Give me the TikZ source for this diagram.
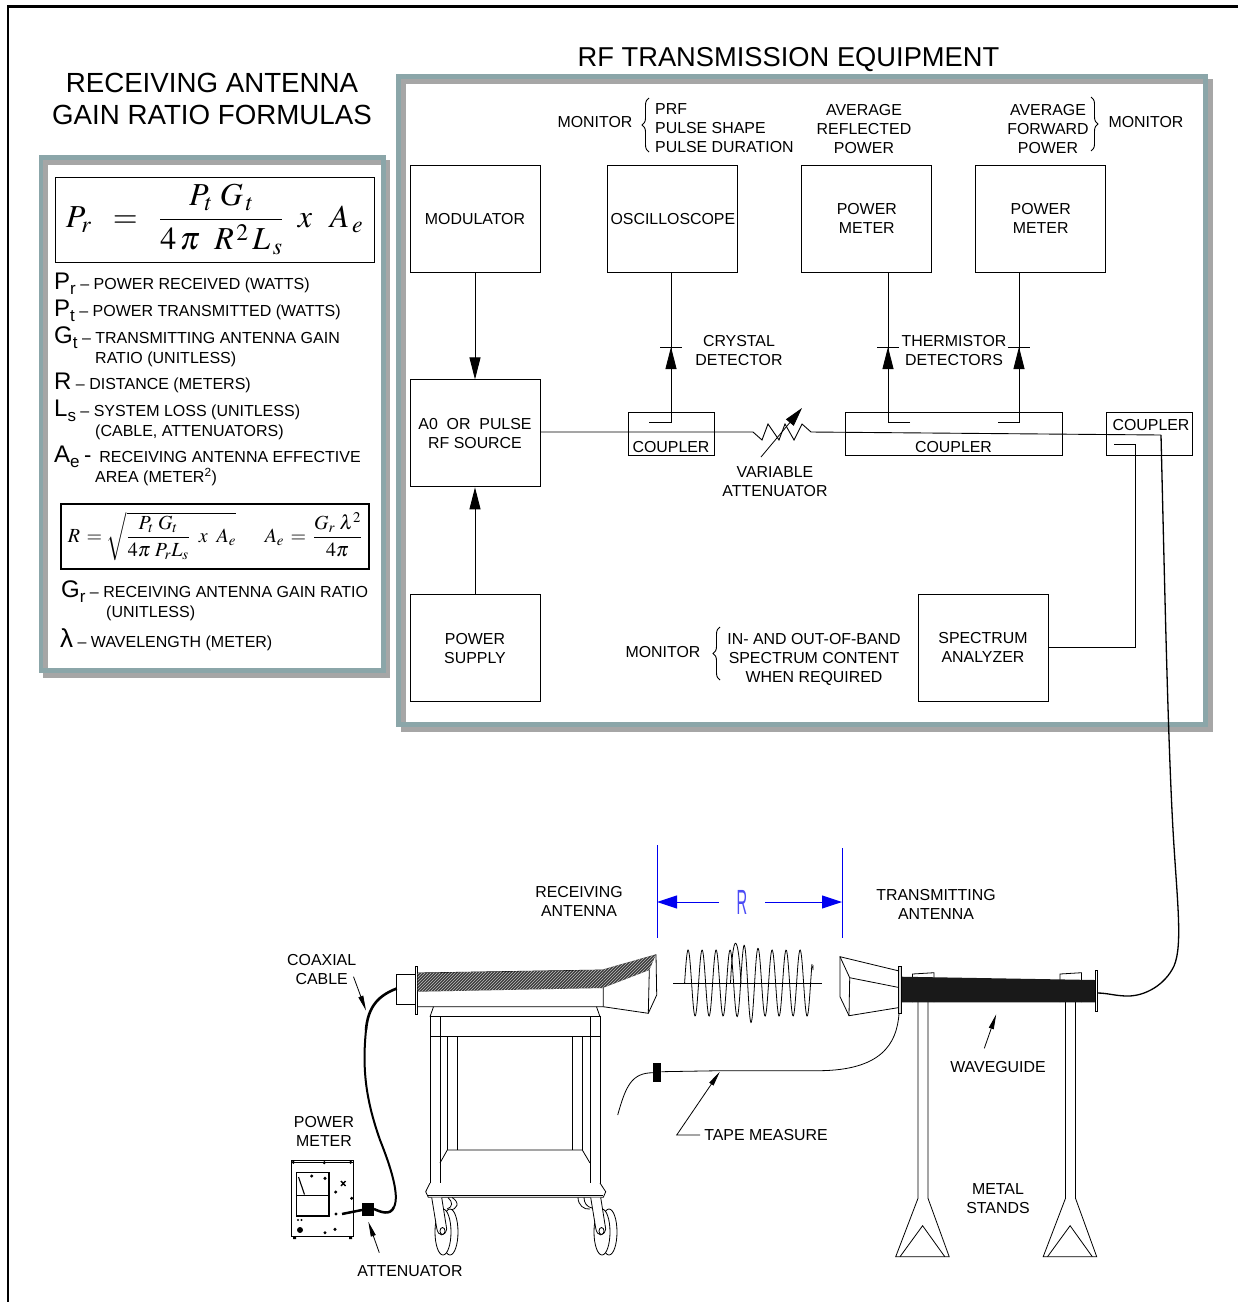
\documentclass[tikz,border=0pt]{standalone}
\usepackage{amsmath}
\usepackage{mathptmx}
\usepackage{fontspec}
\setmainfont{Liberation Sans}
\usetikzlibrary{arrows.meta,positioning,patterns,decorations.pathreplacing}
\definecolor{rfTeal}  {HTML}{8BA6A9}
\definecolor{rfShade} {HTML}{A6A6A6}
\definecolor{rfHatch} {HTML}{3C3C3C}
\definecolor{rfBlue}  {HTML}{0000F0}
\newcommand{\sizept}[1]{\fontsize{#1}{#1}\selectfont}
\newcommand{\lblfont}{\fontsize{15.9}{19}\selectfont}
\newcommand{\rowsym}[2]{{\sizept{24}#1}\raisebox{-5pt}{\sizept{17}#2}}
\tikzset{
  block/.style={draw,minimum width=130pt,minimum height=107pt,inner sep=0pt,align=center,line width=0.9pt,text depth=0pt},
  coupler/.style={draw,minimum height=43pt,inner sep=0pt,line width=0.9pt},
  lbl/.style={inner sep=0pt,align=center,text depth=0pt},
  row/.style={inner sep=0pt,anchor=base west,font=\sizept{16}},
  wire/.style={line width=0.9pt},
  bighead/.style={-{Triangle[length=22pt,width=11pt]}},
  thinhead/.style={-{Triangle[length=15pt,width=5pt]},line width=0.8pt},
  dim/.style={rfBlue,line width=1pt},
  ink/.style={line width=0.8pt},
  brc/.style={decorate,decoration={brace,amplitude=7pt},line width=0.9pt}
}
\begin{document}
\begin{tikzpicture}[x=1pt,y=-1pt,font=\lblfont,baseline]
    \useasboundingbox (0,0) rectangle (1238,1302);
    \draw[line width=2.4pt] (8,1302) -- (8,6.5) -- (1238,6.5);

    % panels
    \fill[rfShade] (43,160) rectangle (390,678);
    \fill[rfTeal] (38.5,155) rectangle (385.5,673);
    \fill[rfShade] (43,160) rectangle (381,667.5);
    \fill[white] (48,164.5) rectangle (381,667.5);
    \fill[rfShade] (401,79) rectangle (1213,732);
    \fill[rfTeal] (396,74) rectangle (1208,727);
    \fill[rfShade] (401,79) rectangle (1203,722);
    \fill[white] (406,84) rectangle (1203,722);

    % titles
    \node[lbl,font=\sizept{27.3}] (rftitle) at (788.5,57) {RF TRANSMISSION EQUIPMENT};
    \node[lbl,font=\sizept{27.7}] (gaintitle) at (212,99) {RECEIVING ANTENNA\\[4pt]GAIN RATIO FORMULAS};

    % formula panel
    \node[draw,line width=0.9pt,minimum width=319pt,minimum height=85pt,inner sep=0pt] (formA) at (214.5,219.5)
      {\sizept{32}$P_r\;\;=\;\;\dfrac{P_t\;G_{\,t}}{4\,\pi\;\;R^{\,2}\,L_{\,s}}\;\;x\;\;\,A_{\,e}$};
    \node[row] (rowPr) at (54,289) {\rowsym{P}{r} – POWER RECEIVED (WATTS)};
    \node[row] (rowPt) at (54,316) {\rowsym{P}{t} – POWER TRANSMITTED (WATTS)};
    \node[row] (rowGt) at (54,343) {\rowsym{G}{t} – TRANSMITTING ANTENNA GAIN};
    \node[row] (rowGtb) at (95,363) {RATIO (UNITLESS)};
    \node[row] (rowR) at (54,389) {{\sizept{24}R} – DISTANCE (METERS)};
    \node[row] (rowLs) at (54,416) {\rowsym{L}{s} – SYSTEM LOSS (UNITLESS)};
    \node[row] (rowLsb) at (95,436) {(CABLE, ATTENUATORS)};
    \node[row] (rowAe) at (54,462) {\rowsym{A}{e} {\sizept{22}-}\hspace{3.5pt} RECEIVING ANTENNA EFFECTIVE};
    \node[row] (rowAeb) at (95,482) {AREA (METER\textsuperscript{2})};
    \node[draw,line width=1.4pt,minimum width=308pt,minimum height=65pt,inner sep=0pt] (formB) at (215,536.5)
      {\sizept{20}$R\,=\sqrt{\dfrac{P_t\;G_t}{4\pi\;P_r L_s}\;\;x\;\;A_e}\quad\;\;A_e\,=\,\dfrac{G_r\;\lambda^2}{4\pi}$};
    \node[row] (rowGr) at (61,597) {\rowsym{G}{r} – RECEIVING ANTENNA GAIN RATIO};
    \node[row] (rowGrb) at (106,617) {(UNITLESS)};
    \node[row] (rowLam) at (60,647) {{\sizept{26}λ} – WAVELENGTH (METER)};

    % blocks
    \node[block] (modulator) at (475,218.5) {MODULATOR};
    \node[block,right=67pt of modulator] (scope) {OSCILLOSCOPE};
    \node[block,right=63pt of scope] (meterA) {POWER\\METER};
    \node[block,right=43pt of meterA] (meterB) {POWER\\METER};
    \node[block,below=107pt of modulator] (source) {A0\ \ OR\ \ PULSE\\RF SOURCE};
    \node[block,below=107pt of source] (supply) {POWER\\SUPPLY};
    \node[block] (analyzer) at (983,647.5) {SPECTRUM\\ANALYZER};
    \node[coupler,minimum width=86pt] (couplerA) at (671,433.5) {};
    \node[coupler,minimum width=217pt] (couplerB) at (953.5,433.5) {};
    \node[coupler,minimum width=86pt] (couplerC) at (1149,433.5) {};
    \node[lbl] (couplerAtxt) at (671,447) {COUPLER};
    \node[lbl] (couplerBtxt) at (953.5,447) {COUPLER};
    \node[lbl] (couplerCtxt) at (1151,425) {COUPLER};

    % monitor notes
    \node[lbl] (monA) at (595,122) {MONITOR};
    \node[lbl,align=left,anchor=west] (monAtxt) at (655,128.5) {PRF\\PULSE SHAPE\\PULSE DURATION};
    \draw[brc] (649,152) -- (649,98);
    \node[lbl] (avgRefl) at (864,128.5) {AVERAGE\\REFLECTED\\POWER};
    \node[lbl] (avgFwd) at (1048,128.5) {AVERAGE\\FORWARD\\POWER};
    \draw[brc] (1091,97) -- (1091,151);
    \node[lbl] (monB) at (1146,122) {MONITOR};
    \node[lbl] (monC) at (663,652) {MONITOR};
    \node[lbl] (monCtxt) at (814,658) {IN- AND OUT-OF-BAND\\SPECTRUM CONTENT\\WHEN REQUIRED};
    \draw[brc] (720,680) -- (720,627);
    \node[lbl] (crystal) at (739,350.5) {CRYSTAL\\DETECTOR};
    \node[lbl] (thermistor) at (954,350.5) {THERMISTOR\\DETECTORS};
    \node[lbl] (varatt) at (775,481.5) {VARIABLE\\ATTENUATOR};

    % signal path
    \draw[wire,bighead] (modulator) -- (source);
    \draw[wire,bighead] (supply) -- (source);
    \coordinate (tapA) at (671,422);
    \coordinate (tapB) at (888,422);
    \coordinate (tapC) at (1019,422);
    \coordinate (tapD) at (1114,444);
    \coordinate (zigL) at (753,432);
    \coordinate (zigR) at (811,432);
    \coordinate (feed) at (1161,435);
    \coordinate (flangeT) at (1097,993);
    \draw[wire] (649,422) -- (tapA) -- (tapA |- scope.south);
    \draw[wire] (910,422) -- (tapB) -- (tapB |- meterA.south);
    \draw[wire] (998,422) -- (tapC) -- (tapC |- meterB.south);
    \foreach \dx in {671,888,1019} {
      \draw[bighead,wire] (\dx,372) -- (\dx,347);
      \draw[wire] (\dx-11,347) -- (\dx+11,347);
    }
    \draw[wire] (source.east |- zigL) -- (zigL) -- (762,440) -- (768,424) -- (779,440)
      -- (785,424) -- (794,440) -- (802,424) -- (zigR) -- (feed);
    \draw[thinhead,-{Triangle[length=19pt,width=10pt]}] (761,457) -- (802,408);
    \draw[wire] (tapD) -- (1135,444) |- (analyzer.east);
    \draw[line width=1.3pt] (feed) .. controls (1165,600) and (1168,740) .. (1173,830)
      .. controls (1177,900) and (1183,945) .. (1174,966)
      .. controls (1165,985) and (1145,996) .. (1128,996)
      .. controls (1115,996) and (1108,993) .. (flangeT);

    % range
    \coordinate (dimLt) at (657,845);
    \coordinate (dimLb) at (657,938);
    \coordinate (dimRt) at (842,848);
    \coordinate (dimRb) at (842,938);
    \draw[dim] (dimLt) -- (dimLb);
    \draw[dim] (dimRt) -- (dimRb);
    \node[lbl,text=rfBlue!70!white,font=\sizept{35},xscale=0.42] (rangeR) at (742,902.5) {R};
    \draw[dim,-{Triangle[length=20pt,width=13pt]}] (719,902) -- (dimLt |- 0,902);
    \draw[dim,-{Triangle[length=20pt,width=13pt]}] (765,902) -- (dimRt |- 0,902);
    \node[lbl] (rxant) at (579,901.5) {RECEIVING\\ANTENNA};
    \node[lbl] (txant) at (936,904) {TRANSMITTING\\ANTENNA};

    % wave
    \draw[ink] (673,983) -- (822,983);
    \draw[ink] plot[domain=0:9.1,samples=260,smooth] ({684.6+14*\x},{983-(33+7*exp(-((\x-4.6)*(\x-4.6))/0.3))*sin(360*\x)});
    \draw[ink] (730.5,983) .. controls (733,930) and (738,930) .. (741,983);
    \draw[line width=0.6pt] (811,969) -- (813,966) -- (813,970);

    % receiving antenna
    \draw[ink,fill=white] (396.7,974) rectangle (415,1004);
    \draw[ink,fill=white] (415,966.7) rectangle (417.7,1014);
    \draw[ink] (417.7,973) -- (603.3,970) -- (603.3,1006.7) -- (417.7,1006.7);
    \fill[rfHatch] (417.7,973) -- (603.3,970) -- (603.3,988) -- (417.7,991.7) -- cycle;
    \fill[pattern=north east lines,pattern color=white!50!gray] (417.7,973) -- (603.3,970) -- (603.3,988) -- (417.7,991.7) -- cycle;
    \fill[rfHatch] (603.3,969.3) -- (656,954.3) -- (649.3,970) -- (603.3,987.7) -- cycle;
    \fill[pattern=north east lines,pattern color=white!50!gray] (603.3,969.3) -- (656,954.3) -- (649.3,970) -- (603.3,987.7) -- cycle;
    \draw[ink] (603.3,1006.7) -- (648.3,1013.3) -- (656.7,995) -- (656,954.3);
    \draw[ink] (648.3,1013.3) -- (649.3,970);

    % cart
    \draw[ink] (433.5,1006.7) -- (430,1016.7) (596.5,1006.7) -- (600,1016.7);
    \draw[ink] (430,1016.7) rectangle (600,1036);
    \draw[ink] (430,1016.7) rectangle (440,1195);
    \draw[ink] (590,1016.7) rectangle (600,1195);
    \draw[ink] (447.3,1036) -- (447.3,1150) (457.3,1036) -- (457.3,1150);
    \draw[ink] (572.3,1036) -- (572.3,1150) (582.3,1036) -- (582.3,1150);
    \draw[ink] (440,1163) -- (447.3,1150) -- (582.3,1150) -- (590,1163);
    \draw[ink,fill=white] (430,1183) -- (425.7,1191.7) -- (428.3,1197.3) -- (603.3,1197.3) -- (605.7,1191.7) -- (600,1183);
    \draw[ink] (428.3,1195) -- (603.3,1195);
    \draw[ink] (452,1197.5) .. controls (460,1202) and (458,1210) .. (449,1210);
    \draw[ink] (448,1197.5) .. controls (453,1202) and (453,1207) .. (447,1209);
    \draw[ink] (578,1197.5) .. controls (578,1205) and (584,1210) .. (590,1209);
    \draw[ink] (584,1197.5) .. controls (584,1203) and (587,1207) .. (592,1208);
    \foreach \cx in {0,159} {
      \draw[ink,fill=white] (\cx+450,1232) ellipse [x radius=8,y radius=23];
      \draw[ink,fill=white] (\cx+443,1232) ellipse [x radius=8,y radius=23];
      \draw[ink,fill=white] (\cx+431.7,1197.5) -- (\cx+436.7,1228) .. controls (\cx+438,1237) and (\cx+445,1237) .. (\cx+446.7,1229) -- (\cx+441.7,1197.5);
      \draw[ink] (\cx+442.5,1231) ellipse [x radius=2.5,y radius=3.5];
    }

    % bench power meter
    \draw[ink,fill=white,line width=1pt] (291.7,1160) rectangle (353.3,1236.7);
    \draw[ink] (291.7,1162.5) -- (353.3,1162.5);
    \draw[ink,line width=1.2pt] (296.7,1172.7) rectangle (329,1216);
    \draw[ink] (296.7,1195) -- (329,1195);
    \draw[ink,line width=1.1pt] (298.5,1177) -- (304.5,1194.5);
    \foreach \px/\py in {324.3/1162.7,311.7/1176,325/1178.3,335.7/1192,351.7/1198.3,336/1214,335/1229.3,325/1232.7,350.7/1162.3,293.3/1162.3} {
      \fill (\px,\py) circle (1.7);
    }
    \draw[line width=1.4pt] (341,1181) -- (345.5,1186) (345.5,1181) -- (341,1186);
    \fill (300,1230) circle (3);
    \fill (298,1220) circle (1.2) (301.5,1220) circle (1.2);
    \draw[line width=1.4pt] (291.7,1190) -- (291.7,1200) (353.3,1193) -- (353.3,1200) (291.7,1218) -- (291.7,1232) (353.3,1218) -- (353.3,1232);
    \fill (293,1236) rectangle (296,1239) (349,1236) rectangle (352,1239);
    \draw[line width=2.5pt] (342,1214) -- (362,1210);
    \fill (362.3,1203.3) rectangle (374,1216);
    \draw[line width=2.5pt] (374,1209) .. controls (381,1212) and (390,1216) .. (394,1207);
    \draw[line width=2pt] (394,1207) .. controls (400,1195) and (390,1165) .. (380,1140)
      .. controls (366,1100) and (362,1070) .. (366,1030);
    \draw[line width=2.6pt] (366,1030) .. controls (368,1005) and (380,995) .. (396.7,988.5);
    \node[lbl] (coax) at (321.7,969) {COAXIAL\\CABLE};
    \node[lbl] (benchmeter) at (324,1131) {POWER\\METER};
    \node[lbl] (pad) at (410,1270.5) {ATTENUATOR};
    \coordinate (coaxtail) at (353.5,976.7);
    \coordinate (coaxtip) at (366,1010.5);
    \coordinate (padtail) at (379.3,1252.7);
    \coordinate (padtip) at (368.3,1221.7);
    \draw[thinhead] (coaxtail) -- (coaxtip);
    \draw[thinhead] (padtail) -- (padtip);

    % transmitting antenna
    \draw[ink] (898,970.7) -- (840,956.7) -- (840,996.7) -- (849,1015.7) -- (898,1007.7);
    \draw[ink] (840,956.7) -- (849.7,977.7) -- (898,987.3);
    \draw[ink] (849.7,977.7) -- (849,1015.7);

    % stands
    \foreach \sx in {0,147.5} {
      \draw[ink] (\sx+912.5,1002) -- (\sx+912.5,974) -- (\sx+934,972.7) -- (\sx+934,1002);
      \draw[ink] (\sx+918,1002) -- (\sx+918,1198.3) -- (\sx+895.7,1256.7) -- (\sx+949.2,1256.7) -- (\sx+928,1198.3) -- (\sx+928,1002);
      \draw[ink] (\sx+900,1256.7) -- (\sx+922.6,1225.7) -- (\sx+944.8,1256.7);
    }
    \fill[black!90] (901,976.7) -- (1095,980) -- (1095,1002.3) -- (901,1002.3) -- cycle;
    \draw[ink,fill=white!70!gray] (898,966.7) rectangle (901,1013.3);
    \draw[ink,fill=white] (1095,970) rectangle (1097.4,1011);

    % tape
    \coordinate (tapeA) at (899,1013.3);
    \coordinate (tapeB) at (661.3,1071.7);
    \coordinate (tapeC) at (653,1072.7);
    \coordinate (tapeD) at (617.7,1115);
    \node[fill,minimum width=8pt,minimum height=19pt,inner sep=0pt] (tapebody) at (657,1072.8) {};
    \draw[ink] (tapeA) .. controls (897,1045) and (880,1070) .. (820,1070.7) -- (720,1070.7) -- (tapeB);
    \draw[ink] (tapeC) .. controls (632,1073) and (626,1085) .. (tapeD);
    \node[lbl] (tapetxt) at (766,1135) {TAPE MEASURE};
    \coordinate (tapeelbow) at (676.7,1135);
    \coordinate (tapetip) at (719.8,1071.7);
    \draw[thinhead] (tapetxt.west) ++(-4,0) -- (tapeelbow) -- (tapetip);
    \node[lbl] (guide) at (998,1067) {WAVEGUIDE};
    \node[lbl] (stands) at (998,1199) {METAL\\STANDS};
    \coordinate (guidetail) at (984.3,1048.3);
    \coordinate (guidetip) at (996.2,1014.3);
    \draw[thinhead] (guidetail) -- (guidetip);
  \end{tikzpicture}
\end{document}
